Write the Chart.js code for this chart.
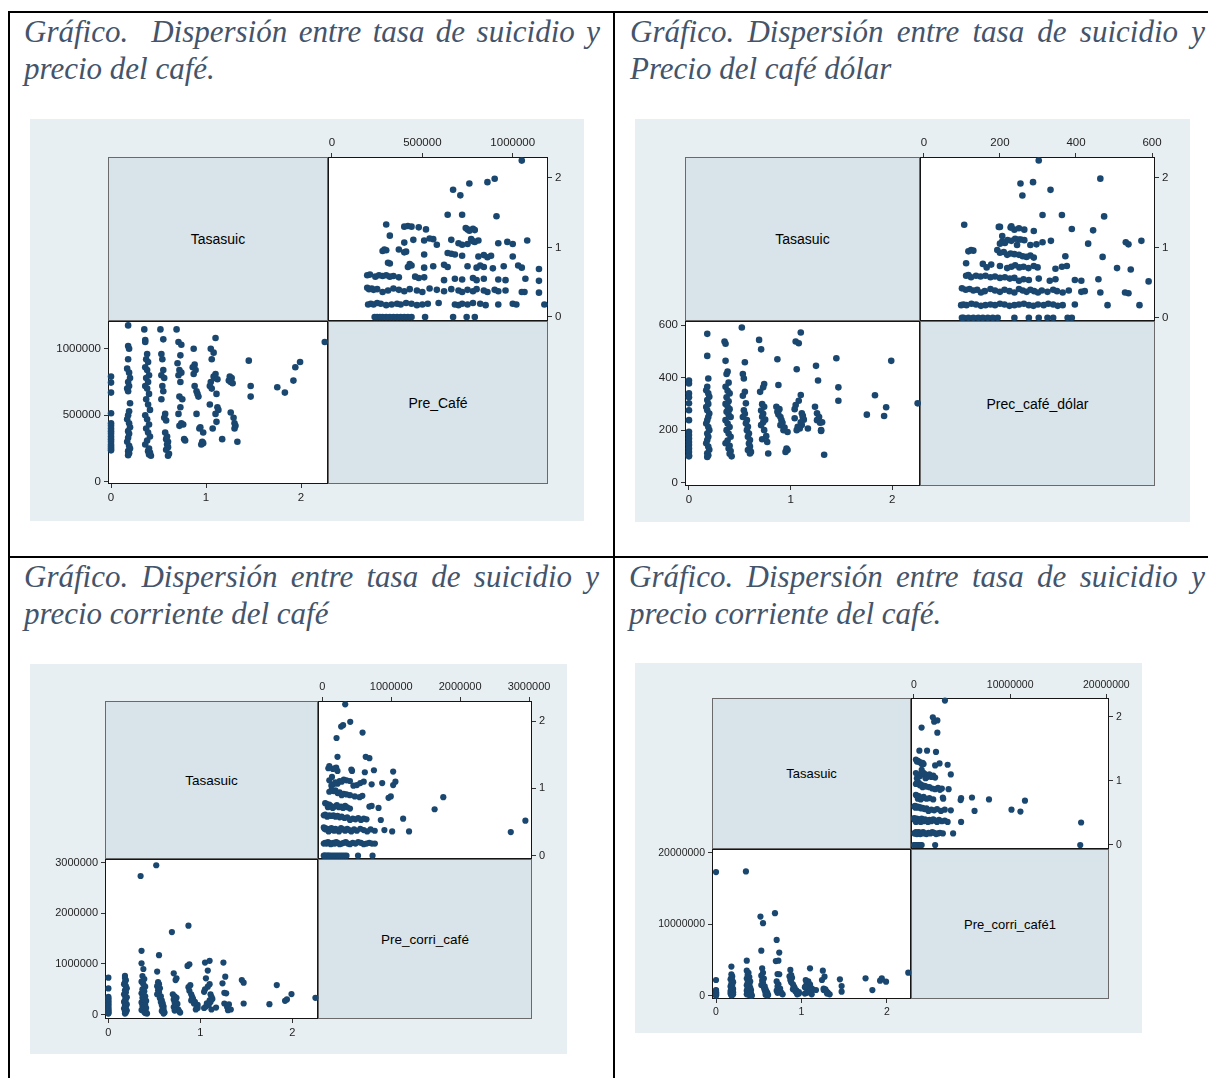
<!DOCTYPE html>
<html>
<head>
<meta charset="utf-8">
<script src="https://cdn.jsdelivr.net/npm/chart.js@4.4.1/dist/chart.umd.min.js"></script>
<style>
  html, body { margin: 0; padding: 0; }
  body { width: 1208px; height: 1078px; position: relative; overflow: hidden; background: #fff;
         font-family: "Liberation Sans", Arial, sans-serif; }
  .rule { position: absolute; background: #000; }
  .title { position: absolute; font-family: "Liberation Serif", "Times New Roman", serif; font-style: italic;
           font-size: 31px; line-height: 37px; color: #44546a; text-align: justify; }
  .bg { position: absolute; background: #e8eff2; }
  .cell { position: absolute; box-sizing: border-box; }
  .lab { background: #d8e4ea; border: 1px solid #6a6a6a; display: flex; align-items: center;
         justify-content: center; color: #000; }
  .plot { background: #fff; border: 1.5px solid #151515; }
  canvas { position: absolute; }
</style>
</head>
<body>
<div class="rule" style="left:8px;top:11px;width:2px;height:1067px"></div>
<div class="rule" style="left:8px;top:11px;width:1200px;height:2px"></div>
<div class="rule" style="left:613px;top:11px;width:2px;height:1067px"></div>
<div class="rule" style="left:8px;top:556px;width:1200px;height:2px"></div>

<div class="title" style="left:24px;top:13px;width:576px">Gráfico.&nbsp; Dispersión entre tasa de suicidio y precio del café.</div>
<div class="title" style="left:630px;top:13px;width:575px">Gráfico. Dispersión entre tasa de suicidio y Precio del café dólar</div>
<div class="title" style="left:24px;top:558px;width:575px">Gráfico. Dispersión entre tasa de suicidio y precio corriente del café</div>
<div class="title" style="left:629px;top:558px;width:576px">Gráfico. Dispersión entre tasa de suicidio y precio corriente del café.</div>

<script>
// Tasa de suicidio por observación (compartida por las cuatro matrices)
const tasa = [
  0,0,0,0,0,0,0,0,0,0,0,0,0,0,0,0,
  0.18,0.18,0.19,0.18,0.17,0.19,0.2,0.18,0.19,0.17,0.18,0.2,0.19,0.18,0.17,0.19,0.2,0.18,0.19,0.18,0.17,0.19,0.2,0.18,0.19,0.18,
  0.35,0.36,0.36,0.38,0.37,0.39,0.36,0.38,0.4,0.37,0.39,0.36,0.38,0.4,0.37,0.39,0.41,0.36,0.38,0.4,0.37,0.39,0.41,0.38,0.36,0.4,0.39,0.41,0.4,0.42,
  0.52,0.55,0.53,0.54,0.55,0.53,0.56,0.54,0.55,0.53,0.57,0.56,0.58,0.57,0.59,0.58,0.6,0.59,0.6,0.58,0.61,0.6,
  0.69,0.71,0.74,0.73,0.7,0.72,0.74,0.71,0.73,0.72,0.75,0.73,0.71,0.74,0.76,0.72,0.77,0.78,
  0.87,0.88,0.86,0.89,0.87,0.88,0.9,0.91,0.92,0.9,0.94,0.93,0.97,0.96,0.97,0.95,
  1.1,1.05,1.08,1.06,1.1,1.08,1.05,1.04,1.11,1.12,1.13,1.1,1.11,1.07,1.09,1.06,1.04,1.12,
  1.17,1.25,1.27,1.24,1.26,1.28,1.26,1.29,1.3,1.31,1.3,1.33,
  1.45,1.47,1.47,
  1.75,1.83,1.92,1.94,1.99,2.25
];

// Precio del café (pesos constantes)
const preCafe = [
  790000,745000,670000,515000,440000,420000,400000,380000,360000,340000,320000,300000,280000,265000,250000,236000,
  1175000,1020000,1000000,920000,850000,820000,780000,750000,720000,700000,680000,590000,530000,500000,470000,440000,410000,380000,360000,330000,300000,270000,250000,230000,215000,200000,
  1145000,1065000,1050000,960000,920000,900000,860000,840000,800000,780000,750000,720000,700000,660000,620000,580000,540000,500000,470000,430000,400000,370000,340000,310000,280000,250000,230000,220000,205000,195000,
  1145000,1070000,960000,920000,840000,800000,780000,720000,680000,620000,510000,480000,460000,370000,340000,320000,300000,280000,260000,240000,210000,195000,
  1145000,1050000,1030000,950000,890000,840000,820000,800000,750000,640000,620000,560000,510000,440000,430000,420000,320000,310000,
  1000000,880000,860000,840000,810000,720000,680000,660000,640000,510000,410000,400000,370000,300000,290000,280000,
  1080000,1000000,970000,920000,810000,790000,750000,720000,660000,560000,540000,510000,450000,400000,780000,700000,580000,770000,
  320000,790000,780000,760000,750000,740000,520000,480000,440000,420000,400000,300000,
  910000,720000,640000,
  710000,670000,760000,860000,900000,1050000
];

// Precio del café en dólares
const precCafeDolar = [
  389,378,340,325,302,276,238,194,181,168,155,143,130,117,104,100,
  567,483,397,365,352,340,327,315,300,288,276,263,250,238,225,212,200,187,175,162,150,137,125,112,104,98,
  538,529,464,423,414,381,365,350,340,325,310,300,290,280,270,260,250,238,225,212,200,187,175,160,150,140,130,120,110,100,
  591,459,414,397,346,331,302,276,262,250,238,226,213,200,187,175,162,149,137,124,117,111,
  544,508,376,363,346,299,289,275,262,251,240,230,219,200,177,165,155,111,
  470,372,289,280,270,260,250,238,228,219,210,200,193,130,124,117,
  572,538,531,432,334,312,296,280,264,250,240,230,220,213,206,200,245,255,
  206,445,389,289,264,250,238,228,197,230,200,106,
  474,363,312,
  259,333,254,287,464,302
];

// Precio corriente del café
const preCorriCafe = [
  728000,517000,350000,320000,290000,260000,230000,200000,170000,140000,110000,90000,70000,50000,30000,20000,
  762000,720000,680000,640000,600000,560000,520000,480000,440000,400000,370000,340000,310000,280000,250000,220000,200000,180000,160000,140000,120000,100000,80000,60000,40000,20000,
  2735000,1258000,1013000,900000,760000,700000,650000,600000,550000,500000,460000,420000,390000,360000,330000,300000,270000,240000,210000,190000,170000,150000,130000,110000,90000,70000,50000,40000,30000,20000,
  2947000,1172000,848000,640000,600000,560000,520000,480000,440000,400000,360000,320000,280000,250000,220000,190000,160000,130000,100000,70000,40000,20000,
  1629000,815000,715000,682000,400000,360000,330000,300000,270000,240000,210000,180000,150000,120000,100000,80000,60000,40000,
  1755000,993000,960000,580000,540000,470000,400000,350000,310000,280000,250000,220000,190000,160000,130000,100000,
  1060000,1027000,868000,715000,600000,550000,500000,450000,400000,350000,310000,280000,250000,220000,190000,160000,130000,100000,
  139000,1027000,748000,616000,430000,420000,219000,152000,86000,200000,180000,100000,
  682000,629000,219000,
  205000,583000,272000,300000,404000,331000
];

// Precio corriente del café (serie 1)
const preCorriCafe1 = [
  17290000,2200000,800000,700000,600000,500000,450000,400000,350000,300000,250000,200000,150000,100000,50000,20000,
  4070000,3000000,2700000,2500000,2300000,2100000,1900000,1700000,1500000,1300000,1100000,950000,850000,750000,650000,550000,500000,450000,400000,350000,300000,250000,200000,150000,100000,50000,
  17380000,4900000,3500000,3200000,2900000,2600000,2400000,2200000,2000000,1800000,1600000,1450000,1300000,1150000,1000000,900000,800000,700000,600000,500000,420000,360000,300000,250000,200000,150000,100000,70000,40000,20000,
  11070000,10140000,6300000,3830000,3200000,2800000,2400000,2100000,1800000,1500000,1300000,1100000,900000,750000,600000,500000,400000,300000,200000,150000,100000,50000,
  11540000,7800000,6030000,4900000,4850000,3040000,3000000,2000000,1600000,1300000,1000000,800000,700000,600000,500000,400000,300000,200000,
  3600000,2900000,2700000,2500000,2200000,1900000,1600000,1300000,1100000,900000,750000,600000,500000,400000,300000,200000,
  3830000,2200000,2000000,1800000,1600000,1400000,1300000,1200000,1100000,1000000,900000,800000,700000,600000,500000,400000,300000,200000,
  800000,3500000,2660000,2200000,1000000,900000,800000,600000,500000,400000,300000,200000,
  2290000,1360000,560000,
  2430000,790000,2100000,2430000,1960000,3220000
];

// Marcas de los ejes
const tasaTicks = [0, 1, 2];
const preCafeTicks = [0, 500000, 1000000];
const precCafeDolarTicks = [0, 200, 400, 600];
const preCorriCafeTicks = [0, 1000000, 2000000, 3000000];
const preCorriCafe1Ticks = [0, 10000000, 20000000];

// Nombres de las variables en la diagonal
const varTasa = 'Tasasuic';
const varNames = ['Pre_Café', 'Prec_café_dólar', 'Pre_corri_café', 'Pre_corri_café1'];

Chart.defaults.font.family = "'Liberation Sans', Arial, sans-serif";

const MARKER = '#1a476f';
const AXW = 72, AXH = 24, PAD = 14;

function box(cls, x, y, w, h, html) {
  const d = document.createElement('div');
  d.className = cls;
  d.style.left = x + 'px'; d.style.top = y + 'px';
  d.style.width = w + 'px'; d.style.height = h + 'px';
  if (html !== undefined) d.innerHTML = html;
  document.body.appendChild(d);
  return d;
}

function axis(pos, ticksArr, range, fontSize) {
  const vertical = pos === 'left' || pos === 'right';
  return {
    type: 'linear', position: pos, min: range[0], max: range[1],
    afterBuildTicks: s => { s.ticks = ticksArr.map(v => ({ value: v })); },
    afterFit: s => { if (vertical) s.width = AXW; else s.height = AXH; },
    grid: { display: true, drawOnChartArea: false, drawTicks: true, tickLength: 4, color: '#333', lineWidth: 1 },
    border: { display: false },
    ticks: { autoSkip: false, maxRotation: 0, minRotation: 0, padding: 3, color: '#1e1e1e',
             font: { size: fontSize }, callback: v => String(v) }
  };
}

function panel(frame, lower, xs, ys, xTicks, yTicks, xRange, yRange, fontSize, radius) {
  const [fx, fy, fw, fh] = frame;
  const c = document.createElement('canvas');
  let left, top, w, h, padding;
  if (lower) {
    left = fx - AXW; top = fy - PAD; w = AXW + fw + PAD; h = PAD + fh + AXH;
    padding = { top: PAD, right: PAD, left: 0, bottom: 0 };
  } else {
    left = fx - PAD; top = fy - AXH; w = PAD + fw + AXW; h = AXH + fh + PAD;
    padding = { top: 0, right: 0, left: PAD, bottom: PAD };
  }
  c.width = w; c.height = h;
  c.style.left = left + 'px'; c.style.top = top + 'px';
  c.style.width = w + 'px'; c.style.height = h + 'px';
  document.body.appendChild(c);
  new Chart(c, {
    type: 'scatter',
    data: { datasets: [{
      data: xs.map((x, i) => ({ x: x, y: ys[i] })),
      pointRadius: radius, pointHoverRadius: radius, pointBorderWidth: 0,
      backgroundColor: MARKER, borderColor: MARKER, clip: false
    }] },
    options: {
      responsive: false, animation: false, events: [],
      layout: { padding: padding },
      plugins: { legend: { display: false }, tooltip: { enabled: false } },
      scales: {
        x: axis(lower ? 'bottom' : 'top', xTicks, xRange, fontSize),
        y: axis(lower ? 'left' : 'right', yTicks, yRange, fontSize)
      }
    }
  });
}

// Matriz de dispersión 2x2: diagonal con nombres, fuera de la diagonal los pares
function matrix(g) {
  box('bg', g.bg[0], g.bg[1], g.bg[2], g.bg[3]);
  const [x0, x1, x2] = g.cols, [y0, y1, y2] = g.rows;
  const lf = 'font-size:' + g.labSize + 'px';
  box('cell lab', x0, y0, x1 - x0, y1 - y0, '<span style="' + lf + '">' + varTasa + '</span>');
  box('cell lab', x1, y1, x2 - x1, y2 - y1, '<span style="' + lf + '">' + g.name + '</span>');
  box('cell plot', x1, y0, x2 - x1, y1 - y0);
  box('cell plot', x0, y1, x1 - x0, y2 - y1);
  // arriba a la derecha: precio en x (arriba), tasa en y (derecha)
  panel([x1, y0, x2 - x1, y1 - y0], false, g.price, tasa, g.priceTicks, tasaTicks,
        g.priceRangeX, g.tasaRangeY, g.tick, g.r);
  // abajo a la izquierda: tasa en x (abajo), precio en y (izquierda)
  panel([x0, y1, x1 - x0, y2 - y1], true, tasa, g.price, tasaTicks, g.priceTicks,
        g.tasaRangeX, g.priceRangeY, g.tick, g.r);
}

matrix({ bg: [30, 119, 554, 402], cols: [108, 328, 548], rows: [157, 321, 484],
  name: varNames[0], price: preCafe, priceTicks: preCafeTicks,
  priceRangeX: [-22000, 1195000], priceRangeY: [-17000, 1208000],
  tasaRangeX: [-0.032, 2.284], tasaRangeY: [-0.058, 2.302], tick: 11.5, labSize: 14, r: 3.3 });

matrix({ bg: [635, 119, 555, 403], cols: [685, 920, 1155], rows: [157, 321, 486],
  name: varNames[1], price: precCafeDolar, priceTicks: precCafeDolarTicks,
  priceRangeX: [-10.3, 607.8], priceRangeY: [-13, 616],
  tasaRangeX: [-0.039, 2.273], tasaRangeY: [-0.047, 2.30], tick: 11.5, labSize: 14, r: 3.3 });

matrix({ bg: [30, 664, 537, 390], cols: [105, 318, 532], rows: [701, 859, 1019],
  name: varNames[2], price: preCorriCafe, priceTicks: preCorriCafeTicks,
  priceRangeX: [-64000, 3043000], priceRangeY: [-87000, 3070000],
  tasaRangeX: [-0.037, 2.278], tasaRangeY: [-0.05, 2.30], tick: 11, labSize: 13.5, r: 3.1 });

matrix({ bg: [635, 663, 507, 370], cols: [712, 911, 1109], rows: [698, 849, 999],
  name: varNames[3], price: preCorriCafe1, priceTicks: preCorriCafe1Ticks,
  priceRangeX: [-310000, 20280000], priceRangeY: [-460000, 20520000],
  tasaRangeX: [-0.047, 2.282], tasaRangeY: [-0.0625, 2.29], tick: 10.5, labSize: 13, r: 3.1 });
</script>
</body>
</html>
